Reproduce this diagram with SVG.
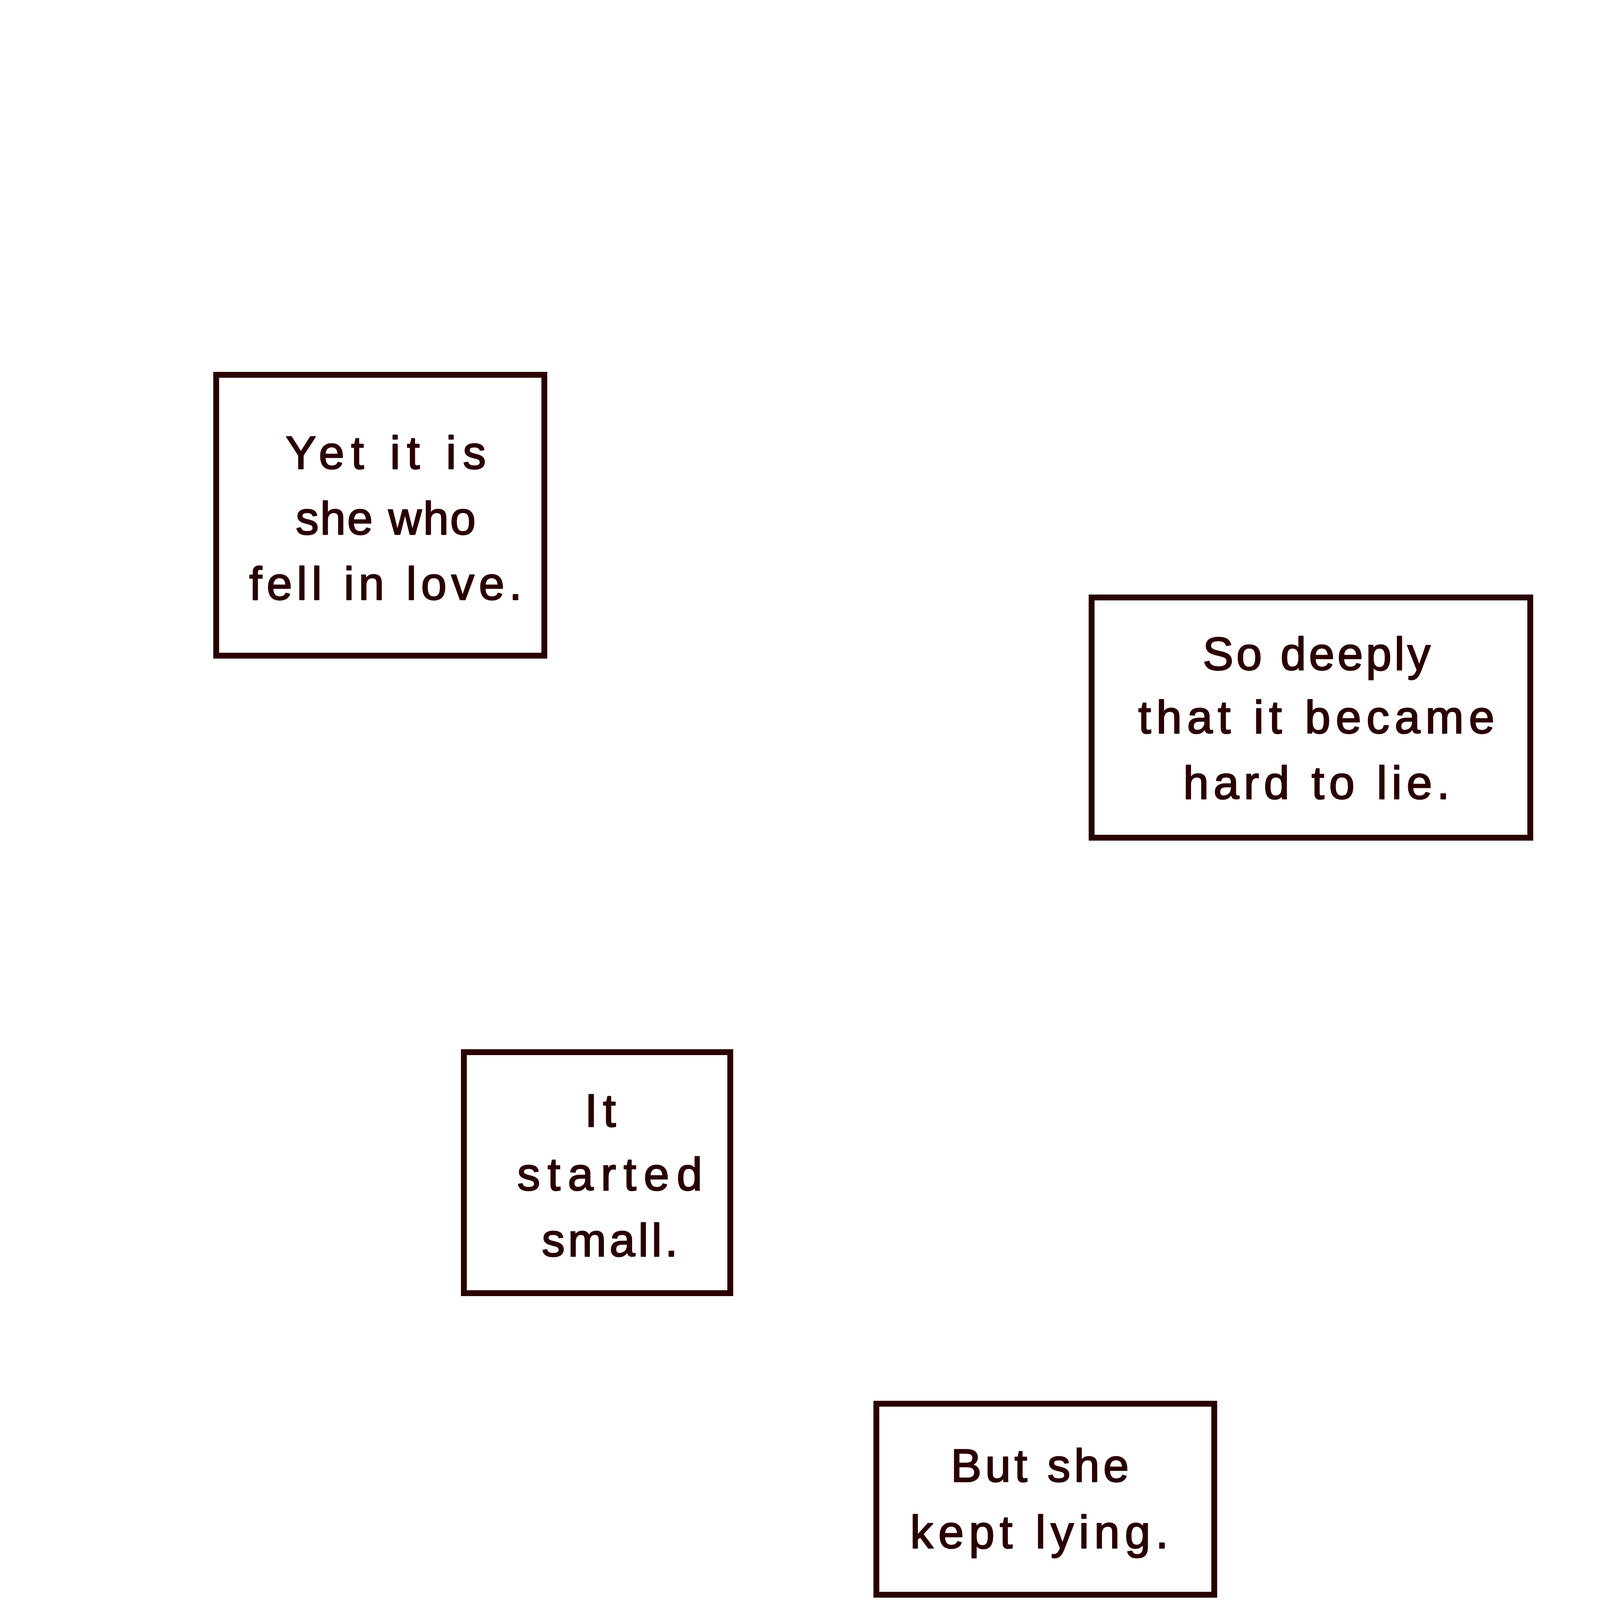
<svg xmlns="http://www.w3.org/2000/svg" width="4299" height="6071" viewBox="0 0 4299 6071">
<style>
.box{fill:#ffffff;stroke:#2a0000;stroke-width:15}
.t{font-family:"Liberation Sans",Arial,sans-serif;font-size:118px;fill:#2a0000;stroke:#2a0000;stroke-width:3;stroke-linejoin:round}
</style>
<rect x="0" y="0" width="4299" height="6071" fill="#ffffff"/>
<g id="connectors"></g>
<g id="node1">
<rect class="box" x="553.5" y="959.5" width="840" height="719"/>
<text class="t" x="731" y="1200" textLength="513" lengthAdjust="spacing">Yet it is</text>
<text class="t" x="757" y="1368" textLength="461" lengthAdjust="spacing">she who</text>
<text class="t" x="638" y="1535" textLength="698" lengthAdjust="spacing">fell in love.</text>
</g>
<g id="node2">
<rect class="box" x="2794.5" y="1529.5" width="1123" height="615"/>
<text class="t" x="3079" y="1715" textLength="583" lengthAdjust="spacing">So deeply</text>
<text class="t" x="2914" y="1877" textLength="912" lengthAdjust="spacing">that it became</text>
<text class="t" x="3029" y="2045" textLength="682" lengthAdjust="spacing">hard to lie.</text>
</g>
<g id="node3">
<rect class="box" x="1187.5" y="2693.5" width="682" height="617"/>
<text class="t" x="1497" y="2884" letter-spacing="14">It</text>
<text class="t" x="1324" y="3047" textLength="474" lengthAdjust="spacing">started</text>
<text class="t" x="1387" y="3216" textLength="348" lengthAdjust="spacing">small.</text>
</g>
<g id="node4">
<rect class="box" x="2243.5" y="3593.5" width="865" height="489"/>
<text class="t" x="2434" y="3793" textLength="456" lengthAdjust="spacing">But she</text>
<text class="t" x="2330" y="3963" textLength="661" lengthAdjust="spacing">kept lying.</text>
</g>
<g id="node5">
<rect class="box" x="452.5" y="4530.5" width="1052" height="267"/>
<text class="t" x="565" y="4701" textLength="871" lengthAdjust="spacing">Lie after lie...</text>
</g>
<g id="node6">
<rect class="box" x="2765.5" y="5090.5" width="1153" height="461"/>
<text class="t" x="2884" y="5283" textLength="962" lengthAdjust="spacing">Feeling a sense</text>
<text class="t" x="3085" y="5449" textLength="564" lengthAdjust="spacing">of relief.</text>
</g>
</svg>
